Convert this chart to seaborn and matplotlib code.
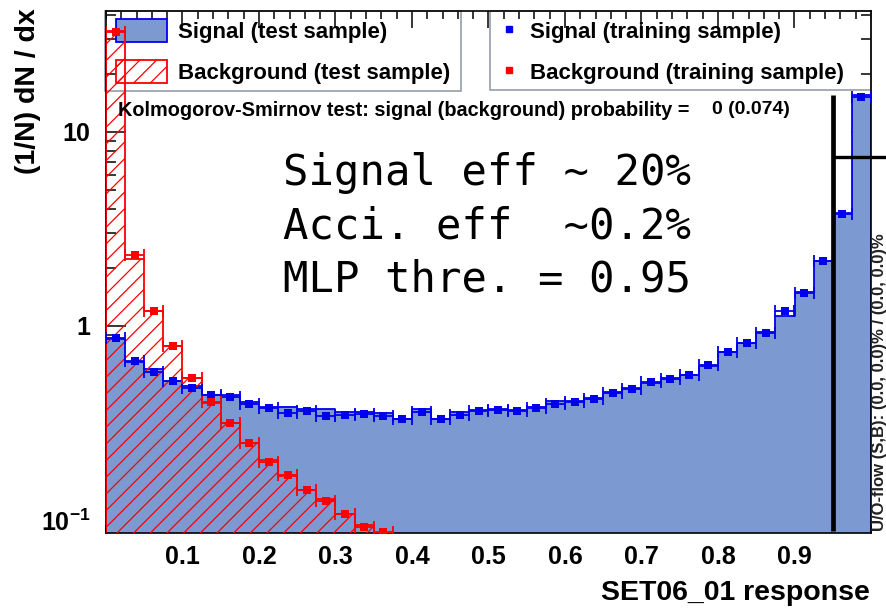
import matplotlib
matplotlib.use("Agg")
import numpy as np
import pandas as pd
import seaborn as sns
import matplotlib.pyplot as plt
from matplotlib.patches import Patch, Rectangle
from matplotlib.lines import Line2D
from matplotlib.ticker import FixedLocator, MultipleLocator, LogLocator, NullFormatter

# ---------------- data ----------------
bin_edges = [round(v, 3) for v in np.linspace(0.0, 1.0, 41)]
bin_centers = [0.5 * (a + b) for a, b in zip(bin_edges[:-1], bin_edges[1:])]

sig_test = [0.857, 0.652, 0.600, 0.518, 0.488, 0.439, 0.439, 0.405, 0.380, 0.380,
            0.373, 0.373, 0.360, 0.360, 0.355, 0.330, 0.375, 0.333, 0.360, 0.370,
            0.375, 0.368, 0.380, 0.410, 0.412, 0.425, 0.455, 0.480, 0.510, 0.540,
            0.560, 0.620, 0.730, 0.820, 0.930, 1.130, 1.500, 2.170, 3.800, 15.50]
sig_train = [0.870, 0.662, 0.577, 0.522, 0.478, 0.439, 0.432, 0.398, 0.377, 0.355,
             0.364, 0.342, 0.346, 0.352, 0.345, 0.333, 0.359, 0.333, 0.346, 0.366,
             0.369, 0.363, 0.376, 0.398, 0.407, 0.420, 0.452, 0.475, 0.512, 0.533,
             0.561, 0.627, 0.738, 0.820, 0.916, 1.190, 1.480, 2.170, 3.780, 15.20]
bkg_test = [33.0, 2.21, 1.20, 0.790, 0.540, 0.400, 0.315, 0.250, 0.205, 0.168,
            0.143, 0.128, 0.108, 0.094, 0.086, 0.075, 0.064, 0.055, 0.047, 0.040,
            0.034, 0.029, 0.025, 0.021, 0.018, 0.015, 0.013, 0.011, 0.0095, 0.008,
            0.007, 0.006, 0.005, 0.0045, 0.004, 0.0035, 0.003, 0.003, 0.0025, 0.002]
bkg_train = [32.6, 2.32, 1.19, 0.789, 0.542, 0.407, 0.315, 0.248, 0.200, 0.170,
             0.143, 0.126, 0.107, 0.0925, 0.087, 0.074, 0.063, 0.054, 0.046, 0.040,
             0.034, 0.029, 0.025, 0.021, 0.018, 0.015, 0.013, 0.011, 0.0095, 0.008,
             0.007, 0.006, 0.005, 0.0045, 0.004, 0.0035, 0.003, 0.003, 0.0025, 0.002]

x_ticks = [0.1, 0.2, 0.3, 0.4, 0.5, 0.6, 0.7, 0.8, 0.9]
x_ticklabels = ["0.1", "0.2", "0.3", "0.4", "0.5", "0.6", "0.7", "0.8", "0.9"]
y_ticks = [0.1, 1, 10]
y_ticklabels = [r"$\mathbf{10^{-1}}$", "1", "10"]

legend_test = ["Signal (test sample)", "Background (test sample)"]
legend_train = ["Signal (training sample)", "Background (training sample)"]
ks_text = "Kolmogorov-Smirnov test: signal (background) probability ="
ks_value = "0 (0.074)"
note_lines = ["Signal eff ~ 20%", "Acci. eff  ~0.2%", "MLP thre. = 0.95"]
overflow_text = "U/O-flow (S,B): (0.0, 0.0)% / (0.0, 0.0)%"
mlp_threshold = 0.95
cut_line_top = 15.5
cut_marker_y = 7.4

SIG_FILL = "#7d99d1"
SIG_LINE = "#0000ee"
BKG = "#ff0000"

df = pd.DataFrame({"x": bin_centers, "sig_test": sig_test, "sig_train": sig_train,
                   "bkg_test": bkg_test, "bkg_train": bkg_train})

# ---------------- style ----------------
sns.set_theme(style="ticks")
plt.rcParams["font.family"] = ["Liberation Sans", "DejaVu Sans"]
plt.rcParams["font.weight"] = "bold"
plt.rcParams["text.color"] = "black"
plt.rcParams["mathtext.fontset"] = "custom"
plt.rcParams["mathtext.bf"] = "Liberation Sans:bold"
plt.rcParams["mathtext.rm"] = "Liberation Sans:bold"
plt.rcParams["hatch.linewidth"] = 0.9

W, H = 887, 608
fig = plt.figure(figsize=(W / 100, H / 100), dpi=100)
ax = fig.add_axes([106 / W, (H - 533) / H, (871 - 106) / W, (533 - 11) / H])
ax.set_facecolor("white")

# signal test histogram (filled)
sns.histplot(data=df, x="x", weights="sig_test", bins=bin_edges, element="step",
             fill=True, color=SIG_LINE, facecolor=SIG_FILL, edgecolor=SIG_LINE,
             linewidth=1.3, alpha=1, ax=ax, zorder=2)
# background test histogram (hatched)
sns.histplot(data=df, x="x", weights="bkg_test", bins=bin_edges, element="step",
             fill=True, color=BKG, facecolor="none", edgecolor=BKG, hatch="//",
             linewidth=1.3, alpha=1, ax=ax, zorder=3)

# training points
for col, c in (("sig_train", SIG_LINE), ("bkg_train", BKG)):
    ax.errorbar(df["x"], df[col], xerr=0.0125, fmt="none", ecolor=c,
                elinewidth=1.3, capsize=4, capthick=1.3, zorder=4)
    sns.scatterplot(data=df, x="x", y=col, marker="s", color=c, s=38,
                    linewidth=0, ax=ax, zorder=5)

ax.set_yscale("log")
ax.set_xlim(0, 1)
ax.set_ylim(0.0857, 42)
ax.set_xlabel("")
ax.set_ylabel("")

# ticks
ax.xaxis.set_major_locator(FixedLocator(x_ticks))
ax.set_xticklabels(x_ticklabels)
ax.xaxis.set_minor_locator(MultipleLocator(0.02))
ax.yaxis.set_major_locator(FixedLocator(y_ticks))
ax.set_yticklabels(y_ticklabels)
ax.yaxis.set_minor_locator(LogLocator(base=10, subs=np.arange(2, 10), numticks=20))
ax.yaxis.set_minor_formatter(NullFormatter())
ax.tick_params(axis="both", which="both", direction="in", top=True, right=True,
               color="black", labelcolor="black", width=1.1)
ax.tick_params(axis="x", which="major", length=12.5, pad=9, labelsize=18)
ax.tick_params(axis="x", which="minor", length=6)
ax.tick_params(axis="y", which="major", length=14.5, pad=11, labelsize=18)
ax.tick_params(axis="y", which="minor", length=7.3)
for lab in ax.get_xticklabels() + ax.get_yticklabels():
    lab.set_fontweight("bold")
for sp in ax.spines.values():
    sp.set_color("black")
    sp.set_linewidth(1.2)

# axis titles
fig.text(870 / W, 1 - 593 / H, "SET06_01 response", ha="right", va="center",
         fontsize=20.5, fontweight="bold", color="black")
fig.text(28 / W, 1 - 8 / H, "(1/N) dN / dx", ha="center", va="top", rotation=90,
         fontsize=20.5, fontweight="bold", color="black")

# legends (frames drawn separately, transparent)
h_test = [Patch(facecolor=SIG_FILL, edgecolor=SIG_LINE, linewidth=1.3),
          Patch(facecolor="none", edgecolor=BKG, hatch="//", linewidth=1.3)]
leg1 = ax.legend(h_test, legend_test, loc="upper left",
                 bbox_to_anchor=(116 / W, 1 - 19 / H), bbox_transform=fig.transFigure,
                 frameon=False, borderpad=0, borderaxespad=0, handlelength=2.3,
                 handleheight=1.22, handletextpad=0.5, labelspacing=0.78,
                 prop={"size": 16, "weight": "bold"}, labelcolor="black")
leg1.set_zorder(1)
ax.add_artist(leg1)
h_train = [Line2D([], [], marker="s", ls="none", color=SIG_LINE, ms=5),
           Line2D([], [], marker="s", ls="none", color=BKG, ms=5)]
leg2 = ax.legend(h_train, legend_train, loc="upper left",
                 bbox_to_anchor=(498 / W, 1 - 19 / H), bbox_transform=fig.transFigure,
                 frameon=False, borderpad=0, borderaxespad=0, handlelength=1.0,
                 handleheight=1.22, handletextpad=0.45, labelspacing=0.78,
                 prop={"size": 16, "weight": "bold"}, labelcolor="black")
leg2.set_zorder(1)
for (x0, x1, y1) in ((105, 461, 91), (490, 871, 90)):
    ax.add_patch(Rectangle((x0 / W, 1 - y1 / H), (x1 - x0) / W, (y1 - 11) / H,
                           transform=fig.transFigure, fill=False,
                           edgecolor="#8a96a2", linewidth=1.1, zorder=1,
                           clip_on=False))

# KS text
fig.text(118 / W, 1 - 110 / H, ks_text, ha="left", va="center", fontsize=14.3,
         fontweight="bold", color="black")
fig.text(712 / W, 1 - 110 / H, ks_value, ha="left", va="center", fontsize=14.0,
         fontweight="bold", color="black")

# annotation
for i, line in enumerate(note_lines):
    fig.text(283 / W, 1 - (173 + 53.5 * i) / H, line, ha="left", va="center",
             fontsize=30.4, family="DejaVu Sans Mono", fontweight="normal",
             color="black")

# overflow text on right edge
fig.text(887 / W, 1 - 531 / H, overflow_text, ha="right", va="bottom", rotation=90,
         fontsize=12, fontweight="bold", color="#222222")

# cut lines
ax.plot([mlp_threshold, mlp_threshold], [0.0875, cut_line_top], color="black",
        linewidth=3.4, solid_capstyle="butt", zorder=6, clip_on=False)
ax.plot([mlp_threshold, 1.021], [cut_marker_y, cut_marker_y], color="black",
        linewidth=2.4, solid_capstyle="butt", zorder=6, clip_on=False)

fig.savefig("out.png", dpi=100)
